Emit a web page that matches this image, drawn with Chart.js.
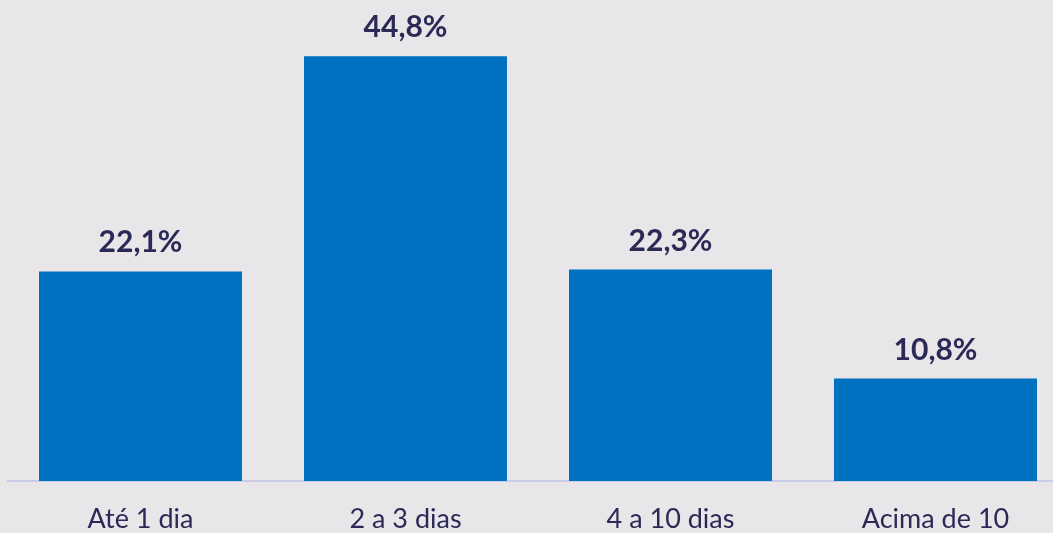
<!DOCTYPE html>
<html>
<head>
<meta charset="utf-8">
<script src="https://cdn.jsdelivr.net/npm/chart.js@4"></script>
<style>
  html, body { margin: 0; padding: 0; overflow: hidden; background: #e8e6e9; }
  #wrap { width: 1080px; height: 560px; }
</style>
</head>
<body>
<div id="wrap"><canvas id="bar-chart" width="1080" height="560"></canvas></div>
<script>
const categories = ['Até 1 dia', '2 a 3 dias', '4 a 10 dias', ['Acima de 10', 'dias']];
const shares = [22.1, 44.8, 22.3, 10.8];

const text_color = '#2b2a57';
const bar_color = '#0070c0';

// value labels above each bar, pt-BR style decimals
const value_labels = {
    id: 'value_labels',
    afterDatasetsDraw(chart) {
        const ctx = chart.ctx;
        const meta = chart.getDatasetMeta(0);
        ctx.save();
        ctx.fillStyle = text_color;
        ctx.font = 'bold 30px Lato';
        ctx.textAlign = 'center';
        ctx.textBaseline = 'alphabetic';
        meta.data.forEach((bar, i) => {
            let label = shares[i].toFixed(1).replace('.', ',') + '%';
            ctx.fillText(label, bar.x, bar.y - 19);
        });
        ctx.restore();
    }
};

const ctx = document.getElementById('bar-chart').getContext('2d');
const bar_chart = new Chart(ctx, {
    type: 'bar',
    data: {
        labels: categories,
        datasets: [{
            data: shares,
            backgroundColor: bar_color,
            categoryPercentage: 1,
            barPercentage: 0.766
        }]
    },
    options: {
        responsive: false,
        animation: false,
        layout: { padding: { left: 8, right: 12, top: 7, bottom: 0 } },
        plugins: {
            legend: { display: false },
            tooltip: { enabled: false }
        },
        scales: {
            x: {
                grid: { display: false },
                border: { display: true, color: '#c9cbe9', width: 2 },
                ticks: {
                    color: text_color,
                    font: { family: 'Lato', size: 27 },
                    padding: 14,
                    maxRotation: 0
                },
                afterFit(scale) { scale.height = 560 - 481; }
            },
            y: {
                display: false,
                min: 0,
                max: 50
            }
        }
    },
    plugins: [value_labels]
});
</script>
</body>
</html>
